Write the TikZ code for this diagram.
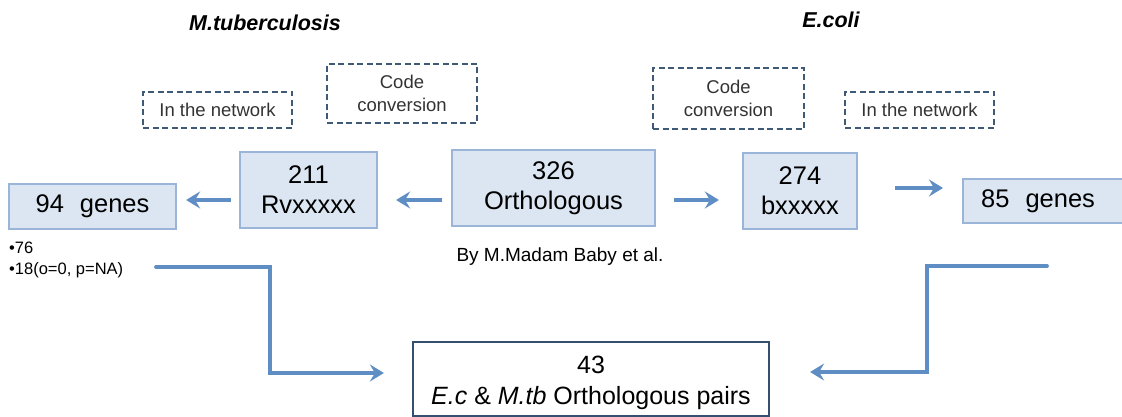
\documentclass[tikz,border=0pt]{standalone}
\usepackage{fontspec}
\setmainfont{Liberation Sans}
\usetikzlibrary{arrows.meta,calc}
\definecolor{boxfill}{HTML}{DCE6F2}
\definecolor{boxline}{HTML}{9AB5D8}
\definecolor{arrcol}{HTML}{5F8EC4}
\definecolor{dashcol}{HTML}{3F5A77}
\definecolor{rescol}{HTML}{34506E}
\tikzset{
  bluebox/.style={draw=boxline, fill=boxfill, line width=2.2pt, align=center, inner sep=0pt,
    font=\fontsize{25.5}{30}\selectfont},
  dashbox/.style={draw=dashcol, line width=2.4pt, dash pattern=on 6pt off 3.5pt, align=center,
    inner sep=0pt, font=\fontsize{18.5}{23}\selectfont, text=black!80},
  arr/.style={draw=arrcol, line width=3.8pt, -{Stealth[length=14pt,width=17pt,inset=5pt]}},
  titlefont/.style={font=\fontsize{21.5}{24}\selectfont\bfseries\itshape},
  small/.style={font=\fontsize{16.5}{20}\selectfont, align=left, inner sep=0pt},
}
\begin{document}
\begin{tikzpicture}[x=1pt,y=-1pt]
\useasboundingbox (0,0) rectangle (1122,417);
\clip (0,0) rectangle (1122,417);
% titles
\node[titlefont] (t1) at (265,23) {M.tuberculosis};
\node[titlefont] (t2) at (831,20) {E.coli};
% dashed boxes
\node[dashbox, minimum width=149, minimum height=36] (n1) at (217.5,110) {In the network};
\node[dashbox, minimum width=150, minimum height=59] (c1) at (402,93.5) {Code\\conversion};
\node[dashbox, minimum width=151, minimum height=61] (c2) at (728.5,98.5) {Code\\conversion};
\node[dashbox, minimum width=149, minimum height=36] (n2) at (919.5,110) {In the network};
% main boxes
\node[bluebox, minimum width=167, minimum height=45] (g94) at (92.5,206.5) {94\hspace{0.35em} genes};
\node[bluebox, minimum width=137, minimum height=76] (rv) at (308.5,190) {211\\Rvxxxxx};
\node[bluebox, minimum width=203, minimum height=76] (orth) at (553.5,188) {326\\Orthologous};
\node[bluebox, minimum width=114, minimum height=76] (bx) at (800,191) {274\\bxxxxx};
\node[bluebox, minimum width=164, minimum height=44, anchor=west] (g85) at (962,201) {\hspace{-14pt}85\hspace{0.35em} genes};
% notes
\node[small, anchor=west] (b1) at (9,248) {\textbullet76};
\node[small, anchor=west] (b2) at (9,270) {\textbullet18(o=0, p=NA)};
\node[font=\fontsize{19}{22}\selectfont, inner sep=0pt] (by) at (560,257) {By M.Madam Baby et al.};
% result
\node[draw=rescol, fill=white, line width=2.2pt, minimum width=356, minimum height=74,
  inner sep=0pt] (res) at (591,379) {};
\node[align=center, inner sep=0pt, font=\fontsize{25}{31}\selectfont] (rest) at ([yshift=-4pt]res.center)
  {43\\\textit{E.c} \& \textit{M.tb} Orthologous pairs};
% arrows
\coordinate (ay) at (0,200);
\draw[arr] ($(rv.west |- ay)+(-8,0)$) -- ($(g94.east |- ay)+(9,0)$);
\draw[arr] ($(orth.west |- ay)+(-9,0)$) -- ($(rv.east |- ay)+(18,0)$);
\draw[arr] ($(orth.east |- ay)+(18,0)$) -- ($(bx.west |- ay)+(-23,0)$);
\coordinate (by2) at (0,188);
\draw[arr] ($(bx.east |- by2)+(37,0)$) -- ($(g85.west |- by2)+(-19,0)$);
% bent arrows
\coordinate (ls) at (156,267);
\coordinate (lc) at (270,267);
\coordinate (rs) at (1047,266);
\coordinate (rc) at (927,266);
\draw[arr, line cap=round] (ls) -- (lc) |- ($(res.west)+(-28,-6)$);
\draw[arr, line cap=round] (rs) -- (rc) |- ($(res.east)+(40,-7)$);
\end{tikzpicture}
\end{document}
